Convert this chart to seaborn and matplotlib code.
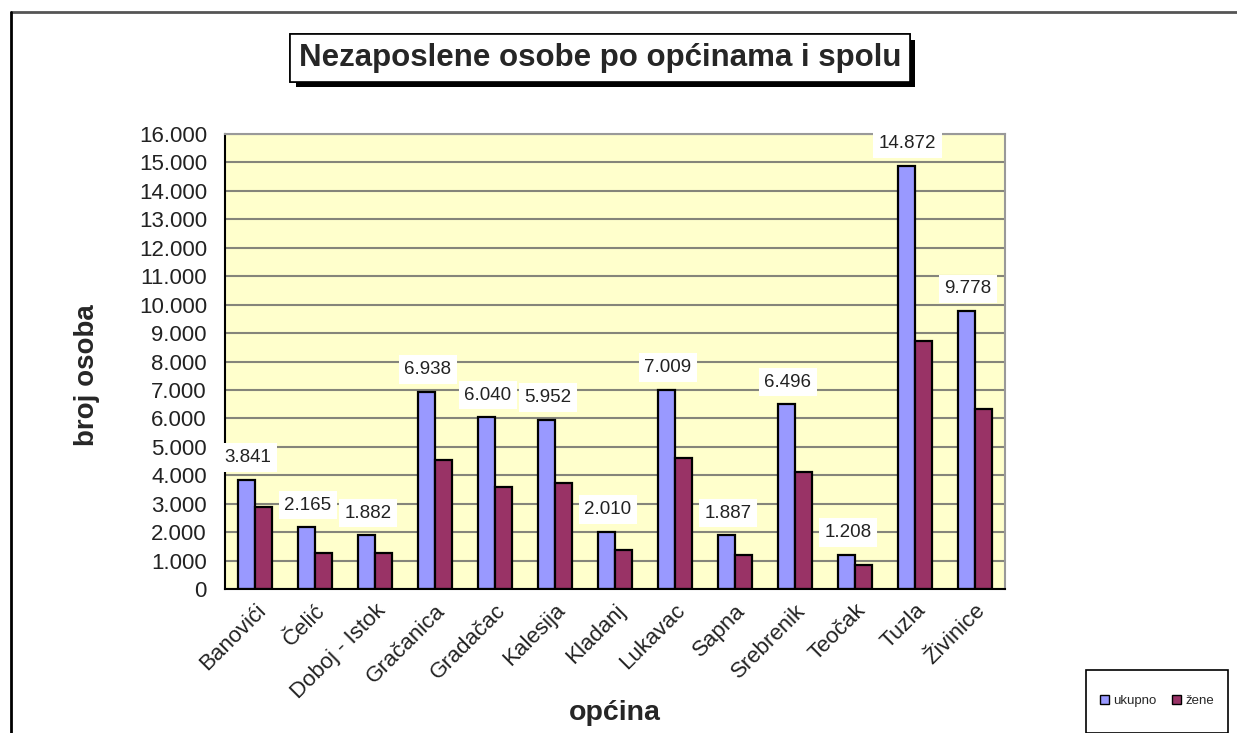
import matplotlib
matplotlib.use("Agg")
import matplotlib.pyplot as plt
import matplotlib.patheffects as pe
from matplotlib.patches import Rectangle
from matplotlib.lines import Line2D
from matplotlib.ticker import FuncFormatter, MultipleLocator, FixedLocator
import pandas as pd
import seaborn as sns

# podaci
opcine = ["Banovići", "Čelić", "Doboj - Istok", "Gračanica", "Gradačac", "Kalesija",
          "Kladanj", "Lukavac", "Sapna", "Srebrenik", "Teočak", "Tuzla", "Živinice"]
ukupno = [3841, 2165, 1882, 6938, 6040, 5952, 2010, 7009, 1887, 6496, 1208, 14872, 9778]
zene = [2900, 1280, 1280, 4530, 3590, 3730, 1360, 4590, 1190, 4120, 830, 8730, 6340]
serije = ["ukupno", "žene"]
boje = ["#9999FF", "#993366"]

df = pd.DataFrame({
    "opcina": opcine * 2,
    "serija": [serije[0]] * len(opcine) + [serije[1]] * len(opcine),
    "broj": ukupno + zene,
})

sns.set_style("white")
plt.rcParams["font.family"] = ["Liberation Sans", "DejaVu Sans"]


def tacka_hiljade(v, _=None):
    return f"{int(round(v)):,}".replace(",", ".")


fig = plt.figure(figsize=(12.37, 7.33), dpi=100)
ax = fig.add_axes([225 / 1237, 1 - 589 / 733, 780 / 1237, 455 / 733])

sns.barplot(data=df, x="opcina", y="broj", hue="serija", palette=boje, width=0.58,
            saturation=1, edgecolor="black", linewidth=1.6, errorbar=None, ax=ax)
ax.legend_.remove()

ax.set_facecolor("#FFFFCC")
ax.set_ylim(0, 16000)
ax.set_xlim(-0.5, len(opcine) - 0.5)
ax.yaxis.set_major_locator(MultipleLocator(1000))
ax.yaxis.set_major_formatter(FuncFormatter(tacka_hiljade))
ax.grid(axis="y", color="#85857a", lw=1.5)
ax.set_axisbelow(True)

# tick marks between categories
ax.xaxis.set_minor_locator(FixedLocator([i - 0.5 for i in range(len(opcine) + 1)]))
ax.tick_params(axis="x", which="major", length=0, pad=8, labelsize=16, labelcolor="#222222")
ax.tick_params(axis="x", which="minor", length=7, width=1.2, color="black", direction="out")
ax.tick_params(axis="y", length=7, width=1.2, color="black", direction="out", labelsize=16,
               pad=6, labelcolor="#222222")
ax.set_xticks(range(len(opcine)))
ax.set_xticklabels(opcine, rotation=45, ha="right", rotation_mode="anchor")

for s in ["left", "bottom"]:
    ax.spines[s].set_color("black")
    ax.spines[s].set_linewidth(1.5)
for s in ["top", "right"]:
    ax.spines[s].set_color("#999999")
    ax.spines[s].set_linewidth(1.5)

# oznake vrijednosti iznad plavih stubaca
for bar, val in zip(ax.containers[0], ukupno):
    ax.annotate(tacka_hiljade(val), (bar.get_x() + bar.get_width() / 2, bar.get_height()),
                xytext=(1, 16), textcoords="offset points", ha="center", va="center",
                fontsize=13.5, color="#222222", zorder=5,
                bbox=dict(boxstyle="square,pad=0.3", fc="white", ec="none"))

ax.set_xlabel("općina", fontsize=20.5, fontweight="bold")
ax.set_ylabel("broj osoba", fontsize=20, fontweight="bold")
ax.xaxis.set_label_coords(0.5, -0.243)
ax.yaxis.set_label_coords(-0.16, 0.47)

# naslov sa sjenom
t = fig.text(600 / 1237, 1 - 58 / 733, "Nezaposlene osobe po općinama i spolu",
             ha="center", va="center", fontsize=22.5, fontweight="bold",
             bbox=dict(boxstyle="square,pad=0.28", fc="white", ec="black", lw=1.2))
t.get_bbox_patch().set_path_effects(
    [pe.withSimplePatchShadow(offset=(4, -4), shadow_rgbFace="black", alpha=1), pe.Normal()])

# okvir
fig.add_artist(Line2D([11 / 1237, 1], [1 - 12 / 733] * 2, color="#555555", lw=2,
                      transform=fig.transFigure))
fig.add_artist(Line2D([11 / 1237] * 2, [0, 1 - 12 / 733], color="black", lw=2,
                      transform=fig.transFigure))

# legenda
fig.add_artist(Rectangle((1086 / 1237, 0), 142 / 1237, 63 / 733, transform=fig.transFigure,
                         fc="white", ec="black", lw=1.2))
ruke = [Rectangle((0, 0), 1, 1, fc=c, ec="black", lw=1) for c in boje]
fig.legend(ruke, serije, loc="center", bbox_to_anchor=(1157 / 1237, 1 - 701 / 733),
           ncol=2, frameon=False, fontsize=9.5, handlelength=0.7, handleheight=0.7,
           handletextpad=0.3, columnspacing=1.2)

fig.savefig("out.png", dpi=100)
